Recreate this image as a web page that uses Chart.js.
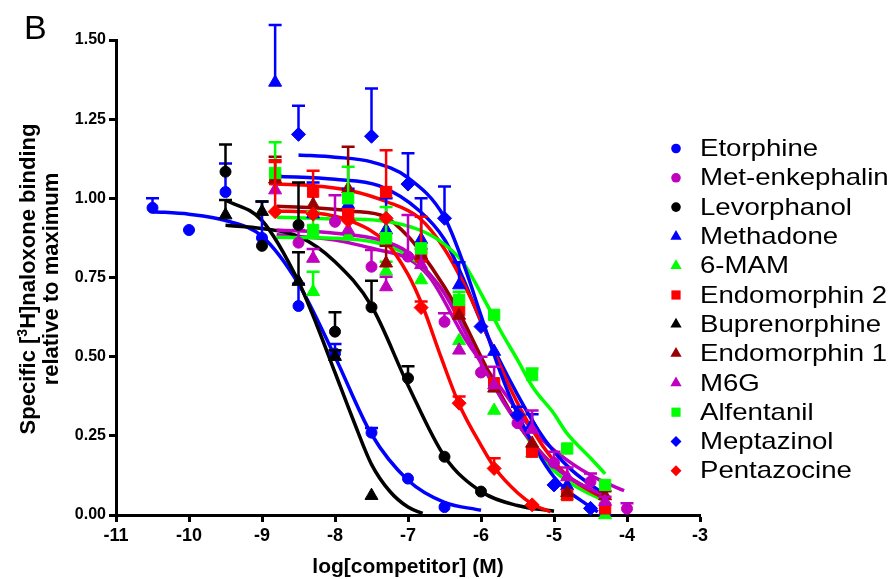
<!DOCTYPE html>
<html><head><meta charset="utf-8">
<script src="https://cdn.jsdelivr.net/npm/chart.js@4.4.0/dist/chart.umd.min.js"></script>
<style>html,body{margin:0;padding:0;background:#fff;}#wrap{position:relative;width:894px;height:579px;}canvas{display:block;}</style>
</head><body><div id="wrap"><canvas id="c" width="894" height="579"></canvas></div>
<script>
// ---------- axis / text ----------
const xTickValues = [-11,-10,-9,-8,-7,-6,-5,-4,-3];
const xTickLabels = ['-11','-10','-9','-8','-7','-6','-5','-4','-3'];
const yTickValues = [0,0.25,0.5,0.75,1,1.25,1.5];
const yTickLabels = ['0.00','0.25','0.50','0.75','1.00','1.25','1.50'];
const xTitle = 'log[competitor] (M)';
const yTitleLine1 = ['Specific [', '3', 'H]naloxone binding'];
const yTitleLine2 = 'relative to maximum';
const panelLabel = 'B';
const seriesNames = ['Etorphine','Met-enkephalin','Levorphanol','Methadone','6-MAM','Endomorphin 2','Buprenorphine','Endomorphin 1','M6G','Alfentanil','Meptazinol','Pentazocine'];

// shared concentration grid (1.5 / 5 x 10^n M)
const gridHalfLog = [-8.82,-8.3,-7.82,-7.3,-6.82,-6.3,-5.82,-5.3,-4.82,-4.3];

// ---------- data: points (mean, upper error) and fitted curves ----------
const etorphineX   = [-10.5,-10,-9.5,-9,-8.5,-8,-7.5,-7,-6.5];
const etorphineY   = [0.97,0.90,1.02,0.875,0.66,0.51,0.26,0.115,0.025];
const etorphineErr = [1.00,null,1.11,0.99,0.73,0.54,0.275,null,null];
const etorphineFitX = [-10.5,-10,-9.5,-9,-8.5,-8,-7.5,-7,-6.5,-6];
const etorphineFitY = [0.958,0.95,0.93,0.88,0.73,0.50,0.255,0.11,0.04,0.015];

const metEnkX   = [-8.5,-8,-7.5,-7,-6.5,-6,-5.5,-5,-4.5,-4];
const metEnkY   = [0.86,0.926,0.784,0.816,0.61,0.45,0.29,0.165,0.105,0.02];
const metEnkErr = [0.90,1.01,0.837,0.947,0.637,0.50,null,0.20,0.131,0.037];
const metEnkFitX = [-8.8,-8,-7.4,-7,-6.7,-6.2,-5.74,-5.28,-4.83,-4.37,-4.04];
const metEnkFitY = [0.885,0.868,0.837,0.81,0.75,0.55,0.405,0.265,0.175,0.11,0.077];

const levorphanolX   = [-9.5,-9,-8.5,-8,-7.5,-7,-6.5,-6];
const levorphanolY   = [1.084,0.85,0.916,0.579,0.656,0.432,0.184,0.074];
const levorphanolErr = [1.17,null,1.05,0.64,0.74,0.47,null,null];
const levorphanolFitX = [-9.5,-9,-8.5,-8,-7.5,-7,-6.5,-6,-5.5,-5];
const levorphanolFitY = [0.915,0.905,0.88,0.80,0.66,0.41,0.185,0.074,0.03,0.012];

const methadoneY   = [1.366,0.95,0.98,0.90,0.87,0.726,0.516,0.285,0.092,0.01];
const methadoneErr = [1.547,1.05,1.03,1.0,1.0,0.798,null,0.318,null,null];
const methadoneFitX = [-8.8,-8,-7.4,-6.84,-6.5,-6.25,-6,-5.75,-5.5,-5.25,-5,-4.75,-4.3];
const methadoneFitY = [1.07,1.06,1.04,0.96,0.87,0.75,0.61,0.49,0.38,0.28,0.20,0.14,0.063];

const mamY   = [1.06,0.705,0.88,0.77,0.742,0.55,0.33,0.195,0.06,0.0];
const mamErr = [null,0.768,null,0.80,null,null,null,null,null,null];
const mamFitX = [-8.8,-8,-7.4,-7,-6.7,-6.5,-6.2,-6,-5.7,-5.5,-5.2,-5,-4.7,-4.3];
const mamFitY = [0.877,0.874,0.858,0.82,0.76,0.70,0.58,0.49,0.36,0.29,0.19,0.14,0.09,0.044];

const endo2Y   = [1.06,1.021,0.95,1.02,0.816,0.647,0.416,0.20,0.063,0.021];
const endo2Err = [1.115,1.087,null,1.152,0.942,null,null,null,null,null];
const endo2FitX = [-8.8,-8.3,-7.8,-7.3,-6.84,-6.5,-6.15,-5.9,-5.6,-5.3,-5,-4.8,-4.3];
const endo2FitY = [1.045,1.04,1.025,0.99,0.937,0.84,0.69,0.56,0.40,0.27,0.17,0.12,0.05];

const bupX   = [-9.5,-9,-8.5,-8,-7.5];
const bupY   = [0.947,0.958,0.737,0.50,0.061];
const bupErr = [0.995,0.99,0.83,0.52,null];
const bupFitX = [-9.5,-9,-8.5,-8.25,-8,-7.75,-7.5,-7.25,-7,-6.8];
const bupFitY = [0.995,0.93,0.737,0.60,0.45,0.30,0.16,0.075,0.025,0.005];

const endo1Y   = [1.06,0.98,1.03,0.795,0.82,0.63,0.40,0.226,0.07,0.06];
const endo1Err = [1.131,null,1.163,0.85,null,null,null,null,null,0.075];
const endo1FitX = [-8.8,-8.3,-7.8,-7.3,-7,-6.84,-6.5,-6.3,-6,-5.8,-5.5,-5.3,-5,-4.8,-4.3];
const endo1FitY = [0.975,0.97,0.96,0.94,0.88,0.835,0.72,0.64,0.50,0.41,0.29,0.23,0.155,0.12,0.055];

const m6gY   = [1.026,0.81,0.90,0.72,0.79,0.52,0.41,0.27,0.12,0.042];
const m6gErr = [null,0.84,null,0.752,0.84,null,0.468,0.33,0.15,0.058];
const m6gFitX = [-8.8,-8,-7.4,-7,-6.7,-6.5,-6.2,-6,-5.7,-5.5,-5.2,-5,-4.7,-4.3];
const m6gFitY = [0.90,0.89,0.87,0.83,0.76,0.70,0.57,0.48,0.36,0.29,0.20,0.155,0.105,0.06];

const alfentanilY   = [1.08,0.90,1.0,0.874,0.842,0.679,0.632,0.442,0.21,0.095];
const alfentanilErr = [1.177,0.958,1.1,0.973,null,0.705,null,0.463,null,null];
const alfentanilFitX = [-8.8,-8,-7.4,-6.84,-6.5,-6.24,-5.92,-5.74,-5.5,-5.28,-5,-4.83,-4.5,-4.3];
const alfentanilFitY = [0.94,0.935,0.93,0.90,0.855,0.795,0.665,0.585,0.49,0.40,0.32,0.26,0.18,0.13];

const meptazinolX   = [-8.5,-7.5,-7,-6.5,-6,-5.5,-5,-4.5];
const meptazinolY   = [1.202,1.196,1.045,0.937,0.595,0.316,0.095,0.021];
const meptazinolErr = [1.292,1.347,1.142,1.037,null,0.342,null,null];
const meptazinolFitX = [-8.5,-8,-7.5,-7,-6.5,-6.25,-6,-5.75,-5.5,-5,-4.5,-4.4];
const meptazinolFitY = [1.137,1.13,1.115,1.065,0.94,0.80,0.63,0.46,0.32,0.12,0.025,0.01];

const pentazocineX   = [-8.82,-8.3,-7.82,-7.3,-6.82,-6.3,-5.82,-5.3];
const pentazocineY   = [0.958,0.95,0.93,0.937,0.655,0.353,0.147,0.032];
const pentazocineErr = [1.12,null,null,null,0.674,0.374,0.179,null];
const pentazocineFitX = [-8.8,-8.3,-7.8,-7.3,-7,-6.8,-6.55,-6.3,-6,-5.8,-5.5,-5.3,-5.05];
const pentazocineFitY = [0.96,0.955,0.93,0.86,0.76,0.66,0.50,0.35,0.22,0.145,0.07,0.035,0.01];

// ---------- styles ----------
const BLUE='#0000ff', MAGENTA='#bf00bf', BLACK='#000000', GREEN='#00ff00', RED='#ff0000', DKRED='#990000';
const FONT = '"Liberation Sans", Arial, Helvetica, sans-serif';

const series = [
  {name:seriesNames[0],  color:BLUE,    marker:'circle',   x:etorphineX,   y:etorphineY,   err:etorphineErr,   fx:etorphineFitX,   fy:etorphineFitY},
  {name:seriesNames[1],  color:MAGENTA, marker:'circle',   x:metEnkX,      y:metEnkY,      err:metEnkErr,      fx:metEnkFitX,      fy:metEnkFitY},
  {name:seriesNames[2],  color:BLACK,   marker:'circle',   x:levorphanolX, y:levorphanolY, err:levorphanolErr, fx:levorphanolFitX, fy:levorphanolFitY},
  {name:seriesNames[3],  color:BLUE,    marker:'triangle', x:gridHalfLog,  y:methadoneY,   err:methadoneErr,   fx:methadoneFitX,   fy:methadoneFitY},
  {name:seriesNames[4],  color:GREEN,   marker:'triangle', x:gridHalfLog,  y:mamY,         err:mamErr,         fx:mamFitX,         fy:mamFitY},
  {name:seriesNames[5],  color:RED,     marker:'rect',     x:gridHalfLog,  y:endo2Y,       err:endo2Err,       fx:endo2FitX,       fy:endo2FitY},
  {name:seriesNames[6],  color:BLACK,   marker:'triangle', x:bupX,         y:bupY,         err:bupErr,         fx:bupFitX,         fy:bupFitY},
  {name:seriesNames[7],  color:DKRED,   marker:'triangle', x:gridHalfLog,  y:endo1Y,       err:endo1Err,       fx:endo1FitX,       fy:endo1FitY},
  {name:seriesNames[8],  color:MAGENTA, marker:'triangle', x:gridHalfLog,  y:m6gY,         err:m6gErr,         fx:m6gFitX,         fy:m6gFitY},
  {name:seriesNames[9],  color:GREEN,   marker:'rect',     x:gridHalfLog,  y:alfentanilY,  err:alfentanilErr,  fx:alfentanilFitX,  fy:alfentanilFitY},
  {name:seriesNames[10], color:BLUE,    marker:'rectRot',  x:meptazinolX,  y:meptazinolY,  err:meptazinolErr,  fx:meptazinolFitX,  fy:meptazinolFitY},
  {name:seriesNames[11], color:RED,     marker:'rectRot',  x:pentazocineX, y:pentazocineY, err:pentazocineErr, fx:pentazocineFitX, fy:pentazocineFitY}
];

const markerRadius = {circle:5.5, triangle:7.5, rect:8, rectRot:7};

const curveSets = series.map((s,k) => ({
  type:'line', label:s.name+' fit',
  data:s.fx.map((v,i)=>({x:v, y:s.fy[i]})),
  borderColor:s.color, backgroundColor:s.color, borderWidth:3.5,
  pointRadius:0, pointHoverRadius:0, fill:false, showLine:true,
  cubicInterpolationMode:'monotone', order:100-k, clip:8
}));
const pointSets = series.map((s,k) => ({
  type:'scatter', label:s.name,
  data:s.x.map((v,i)=>({x:v, y:s.y[i]})),
  errUp:s.err,
  pointStyle:s.marker, pointRadius:markerRadius[s.marker], pointHoverRadius:markerRadius[s.marker],
  backgroundColor:s.color, borderColor:s.color, borderWidth:1,
  showLine:false, order:50-k, clip:false
}));

// ---------- plugins ----------
const errorBars = {
  id:'errorBars',
  beforeDatasetDraw(chart, args){
    const ds = chart.data.datasets[args.index];
    if (!ds.errUp) return;
    const xs = chart.scales.x, ys = chart.scales.y, ctx = chart.ctx;
    ctx.save();
    ctx.strokeStyle = ds.borderColor; ctx.lineWidth = 2.5; ctx.lineCap = 'butt';
    ds.data.forEach((p,i) => {
      const e = ds.errUp[i];
      if (e == null) return;
      const px = xs.getPixelForValue(p.x), py = ys.getPixelForValue(p.y), pe = ys.getPixelForValue(e);
      ctx.beginPath();
      ctx.moveTo(px, py); ctx.lineTo(px, pe);
      ctx.moveTo(px-6.5, pe); ctx.lineTo(px+6.5, pe);
      ctx.stroke();
    });
    ctx.restore();
  }
};

function drawMarker(ctx, style, x, y, r, color){
  ctx.fillStyle = color;
  ctx.beginPath();
  if (style === 'circle') { ctx.arc(x, y, r, 0, Math.PI*2); }
  else if (style === 'triangle') {
    ctx.moveTo(x, y - r); ctx.lineTo(x + r*0.866, y + r*0.5); ctx.lineTo(x - r*0.866, y + r*0.5); ctx.closePath();
  } else if (style === 'rect') { ctx.rect(x - r, y - r, 2*r, 2*r); }
  else if (style === 'rectRot') {
    ctx.moveTo(x, y - r); ctx.lineTo(x + r, y); ctx.lineTo(x, y + r); ctx.lineTo(x - r, y); ctx.closePath();
  }
  ctx.fill();
}

const legendMarkerSize = {circle:4.8, triangle:6.5, rect:4.6, rectRot:5.5};

const texts = {
  id:'texts',
  afterDraw(chart){
    const ctx = chart.ctx;
    ctx.save();
    ctx.fillStyle = '#000';
    // panel label
    ctx.font = '34px ' + FONT;
    ctx.textAlign = 'left'; ctx.textBaseline = 'alphabetic';
    ctx.fillText(panelLabel, 24, 39);
    // x title
    ctx.font = 'bold 21px ' + FONT;
    ctx.textAlign = 'center';
    ctx.fillText(xTitle, 408, 573);
    // y title line 1 with superscript
    ctx.save();
    ctx.translate(29, 279);
    ctx.rotate(-Math.PI/2);
    ctx.textBaseline = 'middle'; ctx.textAlign = 'left';
    const big = 'bold 22px ' + FONT, small = 'bold 14px ' + FONT;
    ctx.font = big; const w1 = ctx.measureText(yTitleLine1[0]).width;
    ctx.font = small; const w2 = ctx.measureText(yTitleLine1[1]).width;
    ctx.font = big; const w3 = ctx.measureText(yTitleLine1[2]).width;
    let sx = -(w1 + w2 + w3)/2;
    ctx.font = big; ctx.fillText(yTitleLine1[0], sx, 0);
    ctx.font = small; ctx.fillText(yTitleLine1[1], sx + w1, -6);
    ctx.font = big; ctx.fillText(yTitleLine1[2], sx + w1 + w2, 0);
    ctx.restore();
    // y title line 2
    ctx.save();
    ctx.translate(52, 279);
    ctx.rotate(-Math.PI/2);
    ctx.textBaseline = 'middle'; ctx.textAlign = 'center';
    ctx.font = 'bold 22px ' + FONT;
    ctx.fillText(yTitleLine2, 0, 0);
    ctx.restore();
    // legend
    series.forEach((s,i) => {
      const y = 148.5 + 29.3*i;
      drawMarker(ctx, s.marker, 676, y, legendMarkerSize[s.marker], s.color);
      ctx.save();
      ctx.fillStyle = '#000';
      ctx.translate(700, y + 1);
      ctx.scale(1.15, 1);
      ctx.font = '24px ' + FONT;
      ctx.textAlign = 'left'; ctx.textBaseline = 'middle';
      ctx.fillText(s.name, 0, 0);
      ctx.restore();
    });
    ctx.restore();
  }
};

new Chart(document.getElementById('c'), {
  type:'scatter',
  data:{ datasets: curveSets.concat(pointSets) },
  options:{
    responsive:false, animation:false, devicePixelRatio:1,
    layout:{ padding:{ top:40, right:194, bottom:0, left:0 } },
    plugins:{ legend:{display:false}, tooltip:{enabled:false} },
    events:[],
    scales:{
      x:{
        type:'linear', min:-11, max:-3,
        afterBuildTicks(scale){ scale.ticks = xTickValues.map(v=>({value:v})); },
        afterFit(scale){ scale.height = 64; },
        ticks:{ autoSkip:false, maxRotation:0, padding:3, color:'#000',
          font:{ family:FONT, size:18, weight:'bold' },
          callback:(v,i)=>xTickLabels[i] },
        grid:{ drawOnChartArea:false, drawTicks:true, tickLength:7, tickWidth:3, tickColor:'#000', color:'#000' },
        border:{ display:true, color:'#000', width:3 }
      },
      y:{
        type:'linear', min:0, max:1.5,
        afterBuildTicks(scale){ scale.ticks = yTickValues.map(v=>({value:v})); },
        afterFit(scale){ scale.width = 116; },
        ticks:{ autoSkip:false, padding:3, color:'#000',
          font:{ family:FONT, size:16, weight:'bold' },
          callback:(v,i)=>yTickLabels[i] },
        grid:{ drawOnChartArea:false, drawTicks:true, tickLength:7, tickWidth:3, tickColor:'#000', color:'#000' },
        border:{ display:true, color:'#000', width:3 }
      }
    }
  },
  plugins:[errorBars, texts]
});
</script></body></html>
